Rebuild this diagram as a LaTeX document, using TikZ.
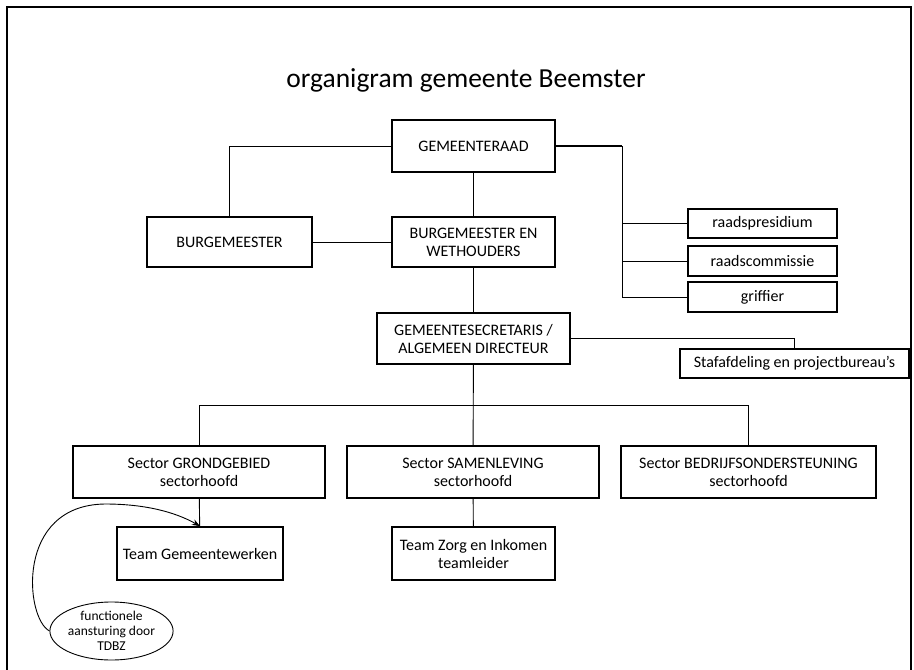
\documentclass[tikz,border=0pt]{standalone}
\usepackage{fontspec}
\setmainfont{Carlito}
\usetikzlibrary{arrows.meta,shapes.geometric}
\begin{document}
\begin{tikzpicture}[x=1pt,y=-1pt,
  box/.style={draw,line width=1.8pt,inner sep=0pt,align=center,font=\fontsize{16}{18}\selectfont},
  conn/.style={line width=0.9pt},
  thickconn/.style={line width=1.5pt}]
\useasboundingbox (0,0) rectangle (914,670);
\draw[line width=1.5pt] (7,670) -- (7,7) -- (911,7) -- (911,670);
\node[font=\fontsize{27.5}{30}\selectfont] (title) at (466,80) {organigram gemeente Beemster};
\node[box,minimum width=163pt,minimum height=52pt] (GR) at (473.5,146) {GEMEENTERAAD};
\node[box,minimum width=165pt,minimum height=50pt] (BM) at (229.5,242) {BURGEMEESTER};
\node[box,minimum width=163pt,minimum height=50pt] (BW) at (473.5,242) {BURGEMEESTER EN\\WETHOUDERS};
\node[box,minimum width=149pt,minimum height=29pt] (RP) at (762.5,223.5) {raadspresidium};
\node[box,minimum width=149pt,minimum height=30pt] (RC) at (762.5,261) {raadscommissie};
\node[box,minimum width=149pt,minimum height=30pt] (GF) at (762.5,297) {griffier};
\node[box,minimum width=193pt,minimum height=51pt] (GS) at (473.5,338.5) {GEMEENTESECRETARIS /\\ALGEMEEN DIRECTEUR};
\node[box,minimum width=229pt,minimum height=29pt] (ST) at (794.5,363.5) {Stafafdeling en projectbureau’s};
\node[box,minimum width=252pt,minimum height=52pt] (SG) at (199,472) {Sector GRONDGEBIED\\sectorhoofd};
\node[box,minimum width=252pt,minimum height=52pt] (SS) at (473,472) {Sector SAMENLEVING\\sectorhoofd};
\node[box,minimum width=255pt,minimum height=52pt] (SB) at (748.5,472) {Sector BEDRIJFSONDERSTEUNING\\sectorhoofd};
\node[box,minimum width=166pt,minimum height=53pt] (TG) at (200,553.5) {Team Gemeentewerken};
\node[box,minimum width=163pt,minimum height=53pt] (TZ) at (473.5,553.5) {Team Zorg en Inkomen\\teamleider};
\node[draw,ellipse,line width=0.9pt,minimum width=121pt,minimum height=58pt,inner sep=0pt,align=center,font=\fontsize{13.5}{15}\selectfont] (EL) at (111.5,631) {functionele\\aansturing door\\TDBZ};
\coordinate (bus) at (622,0);
\coordinate (hb) at (0,405);
\draw[conn] (GR.west) -| (BM.north);
\draw[conn] (GR) -- (BW);
\draw[conn] (BM) -- (BW);
\draw[thickconn] (GR.east) -- (GR.east -| bus);
\draw[conn] (GR.east -| bus) |- (GF.west);
\draw[conn] (bus |- RP.west) -- (RP.west);
\draw[conn] (bus |- RC.west) -- (RC.west);
\draw[conn] (BW) -- (GS);
\draw[conn] (GS.east) -| (ST.north);
\draw[conn] (GS) -- (SS);
\draw[conn] (SG.north) -- (SG.north |- hb) -- (SB.north |- hb) -- (SB.north);
\draw[conn] (SG) -- (TG);
\draw[conn] (SS) -- (TZ);
\draw[conn,-{Stealth[length=8pt,width=6pt]}] (EL.west) .. controls (25,618) and (15,505) .. (105,504) .. controls (145,504) and (175,512) .. (TG.north);
\end{tikzpicture}
\end{document}
